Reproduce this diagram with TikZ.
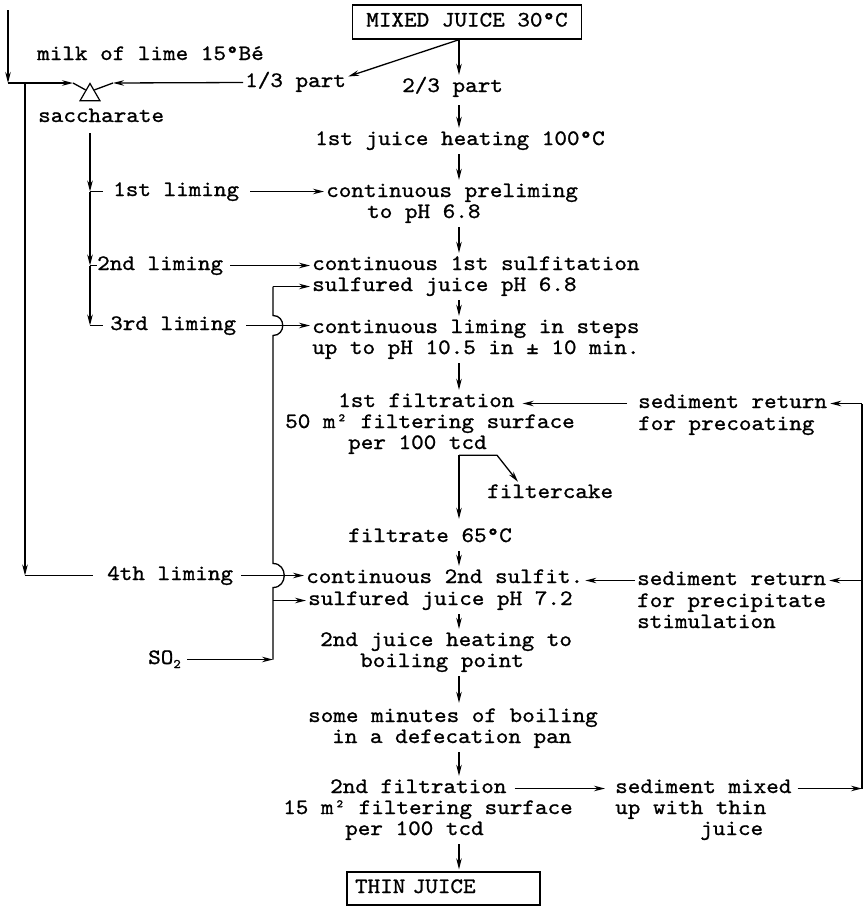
\documentclass[tikz,border=0pt]{standalone}
\usepackage{fontspec}
\newfontfamily\typew{lmmono10-regular.otf}[FakeBold=1,FakeStretch=1.09]
\usetikzlibrary{arrows.meta,shapes.geometric,calc}
\begin{document}
\begin{tikzpicture}[x=1pt,y=-1pt,
  txt/.style={font=\typew\fontsize{22}{22}\selectfont, anchor=base west, inner sep=0pt, text height=12pt, text depth=3pt},
  boxnode/.style={draw, line width=1.4pt, font=\typew\fontsize{22}{22}\selectfont, inner sep=0pt, text height=12pt, text depth=3pt},
  flow/.style={line width=1.3pt},
  arr/.style={flow,-{Stealth[length=11pt,width=5.5pt]}},
  varr/.style={arr, shorten <=6pt, shorten >=5pt},
]
\useasboundingbox (0,0) rectangle (863,908);
\coordinate (ax) at (459,0);
\coordinate (rv) at (862,0);
\coordinate (sv) at (273,0);
\coordinate (sxc) at (90,0);

% boxes
\node[boxnode, minimum width=229pt, minimum height=34pt] (mixed) at (467,22) {MIXED JUICE 30°C};
\node[boxnode, minimum height=33pt, text width=177pt, align=left, inner xsep=8pt] (thin) at (443.5,888.5) {THIN JUICE};

% texts
\node[txt] (milk) at (37,60) {milk of lime 15°Bé};
\node[txt] (p13) at (245,87) {1/3 part};
\node[txt] (p23) at (402,92) {2/3 part};
\node[txt] (sacc) at (38,122) {saccharate};
\node[txt] (heat1) at (315,145) {1st juice heating 100°C};
\node[txt] (lim1) at (113,196) {1st liming};
\node[txt] (prelim) at (326,197) {continuous preliming};
\node[txt] (prelim2) at (367,218) {to pH 6.8};
\node[txt] (lim2) at (97,270) {2nd liming};
\node[txt] (sulf1) at (312,270) {continuous 1st sulfitation};
\node[txt] (sulf1b) at (312,291) {sulfured juice pH 6.8};
\node[txt] (lim3) at (110,330) {3rd liming};
\node[txt] (steps) at (312,333) {continuous liming in steps};
\node[txt] (steps2) at (312,354) {up to pH 10.5 in ± 10 min.};
\node[txt] (filt1) at (338,407) {1st filtration};
\node[txt] (filt1b) at (285,428) {50 m² filtering surface};
\node[txt] (filt1c) at (348,449) {per 100 tcd};
\node[txt] (sedA) at (638,408) {sediment return};
\node[txt] (sedA2) at (638,430) {for precoating};
\node[txt] (cake) at (487,498) {filtercake};
\node[txt] (filtrate) at (348,542) {filtrate 65°C};
\node[txt] (lim4) at (107,580) {4th liming};
\node[txt] (sulf2) at (306,583) {continuous 2nd sulfit.};
\node[txt] (sulf2b) at (308,605) {sulfured juice pH 7.2};
\node[txt] (sedB) at (637,585) {sediment return};
\node[txt] (sedB2) at (637,607) {for precipitate};
\node[txt] (sedB3) at (637,628) {stimulation};
\node[txt] (heat2) at (320,646) {2nd juice heating to};
\node[txt] (heat2b) at (360,667) {boiling point};
\node[txt] (so2) at (148,664) {SO\raisebox{-4pt}{\fontsize{13}{13}\selectfont 2}};
\node[txt] (boil) at (308,722) {some minutes of boiling};
\node[txt] (boil2) at (332,743) {in a defecation pan};
\node[txt] (filt2) at (330,793) {2nd filtration};
\node[txt] (filt2b) at (283,814) {15 m² filtering surface};
\node[txt] (filt2c) at (345,835) {per 100 tcd};
\node[txt] (sedC) at (615,793) {sediment mixed};
\node[txt] (sedC2) at (615,814) {up with thin};
\node[txt] (sedC3) at (700,835) {juice};

% mixing triangle
\node[draw, line width=1.2pt, regular polygon, regular polygon sides=3, minimum size=23pt, inner sep=0pt] (mix) at (90,95) {};

% main column
\draw[arr, shorten >=5pt] (mixed.south -| ax) -- (p23.north -| ax);
\draw[arr] (mixed.south -| ax) -- ($(p13.east)+(2,-6)$);
\draw[varr, shorten <=10pt] (p23.south -| ax) -- (heat1.north -| ax);
\draw[varr] (heat1.south -| ax) -- (prelim.north -| ax);
\draw[varr] (prelim2.south -| ax) -- (sulf1.north -| ax);
\draw[varr] (sulf1b.south -| ax) -- (steps.north -| ax);
\draw[varr] (steps2.south -| ax) -- (filt1.north -| ax);
\coordinate (fsplit) at ($(filt1c.south -| ax)+(0,3)$);
\draw[arr, shorten >=11pt] (fsplit) -- (filtrate.north -| ax);
\draw[arr] (fsplit) -- ++(38,0) -- ($(cake.north west)+(31,-4)$);
\draw[varr] (filtrate.south -| ax) -- (sulf2.north -| ax);
\draw[varr] (sulf2b.south -| ax) -- (heat2.north -| ax);
\draw[varr, shorten >=7pt] (heat2b.south -| ax) -- (boil.north -| ax);
\draw[varr] (boil2.south -| ax) -- (filt2.north -| ax);
\draw[varr, shorten >=2pt] (filt2c.south -| ax) -- (thin.north -| ax);

% milk of lime and saccharate
\coordinate (tl) at (8,10);
\coordinate (cA) at (8,83);
\coordinate (cB) at (25,83);
\coordinate (mixin) at (73,83);
\coordinate (mixr) at (113,83);
\draw[arr] (tl) -- (cA);
\draw[flow] (cA) -- (cB);
\draw[arr] (cB) -- (mixin);
\draw[flow] (mixin) -- ($(mix.corner 1)!0.4!(mix.corner 2)$);
\draw[arr, shorten <=2pt] (p13.west) -- (mixr);
\draw[flow] (mixr) -- ($(mix.corner 1)!0.4!(mix.corner 3)$);
\draw[arr] (cB) -- (cB |- lim4.west);
\draw[flow] (cB |- lim4.west) -- ([xshift=-14pt]lim4.west);

\draw[arr, shorten <=8pt] (sacc.south -| sxc) -- (sxc |- lim1.west);
\draw[flow] (sxc |- lim1.west) -- ([xshift=-10pt]lim1.west);
\draw[arr] (sxc |- lim1.west) -- (sxc |- lim2.west);
\draw[flow] (sxc |- lim2.west) -- (lim2.west);
\draw[arr] (sxc |- lim2.west) -- (sxc |- lim3.west);
\draw[flow] (sxc |- lim3.west) -- ([xshift=-7pt]lim3.west);

% liming feeds
\draw[arr, shorten >=2pt] ([xshift=11pt]lim1.east) -- (prelim.west |- lim1.east);
\draw[arr, shorten >=2pt] ([xshift=7pt]lim2.east) -- (sulf1.west |- lim2.east);
\draw[arr, shorten >=2pt] ([xshift=10pt]lim3.east) -- (steps.west |- lim3.east);
\draw[arr, shorten >=2pt] ([xshift=8pt]lim4.east) -- (sulf2.west |- lim4.east);

% SO2 line with hops
\coordinate (h3) at (sv |- lim3.east);
\coordinate (h4) at (sv |- lim4.east);
\draw[flow] (sv |- sulf1b.west) -- ($(h3)+(0,-10)$)
  .. controls ($(h3)+(13,-10)$) and ($(h3)+(13,10)$) .. ($(h3)+(0,10)$)
  -- ($(h4)+(0,-12)$)
  .. controls ($(h4)+(15,-12)$) and ($(h4)+(15,12)$) .. ($(h4)+(0,12)$)
  -- (sv |- so2.east);
\draw[arr, shorten >=2pt] (sv |- sulf1b.west) -- (sulf1b.west);
\draw[arr, shorten >=2pt] (sv |- sulf2b.west) -- (sulf2b.west);
\draw[arr, shorten <=6pt] (so2.east) -- (sv |- so2.east);

% sediment returns
\draw[arr, shorten <=11pt, shorten >=8pt] (sedA.west) -- (filt1.east |- sedA.west);
\draw[arr, shorten <=2pt, shorten >=2pt] (sedB.west) -- (sulf2.east |- sedB.west);
\draw[arr, shorten <=8pt, shorten >=10pt] (filt2.east) -- (sedC.west |- filt2.east);
\draw[arr, shorten <=6pt] (sedC.east) -- (sedC.east -| rv);
\draw[flow] (sedC.east -| rv) -- (sedA.east -| rv);
\draw[arr, shorten >=3pt] (sedA.east -| rv) -- (sedA.east);
\draw[arr, shorten >=3pt] (sedB.east -| rv) -- (sedB.east);
\end{tikzpicture}
\end{document}
